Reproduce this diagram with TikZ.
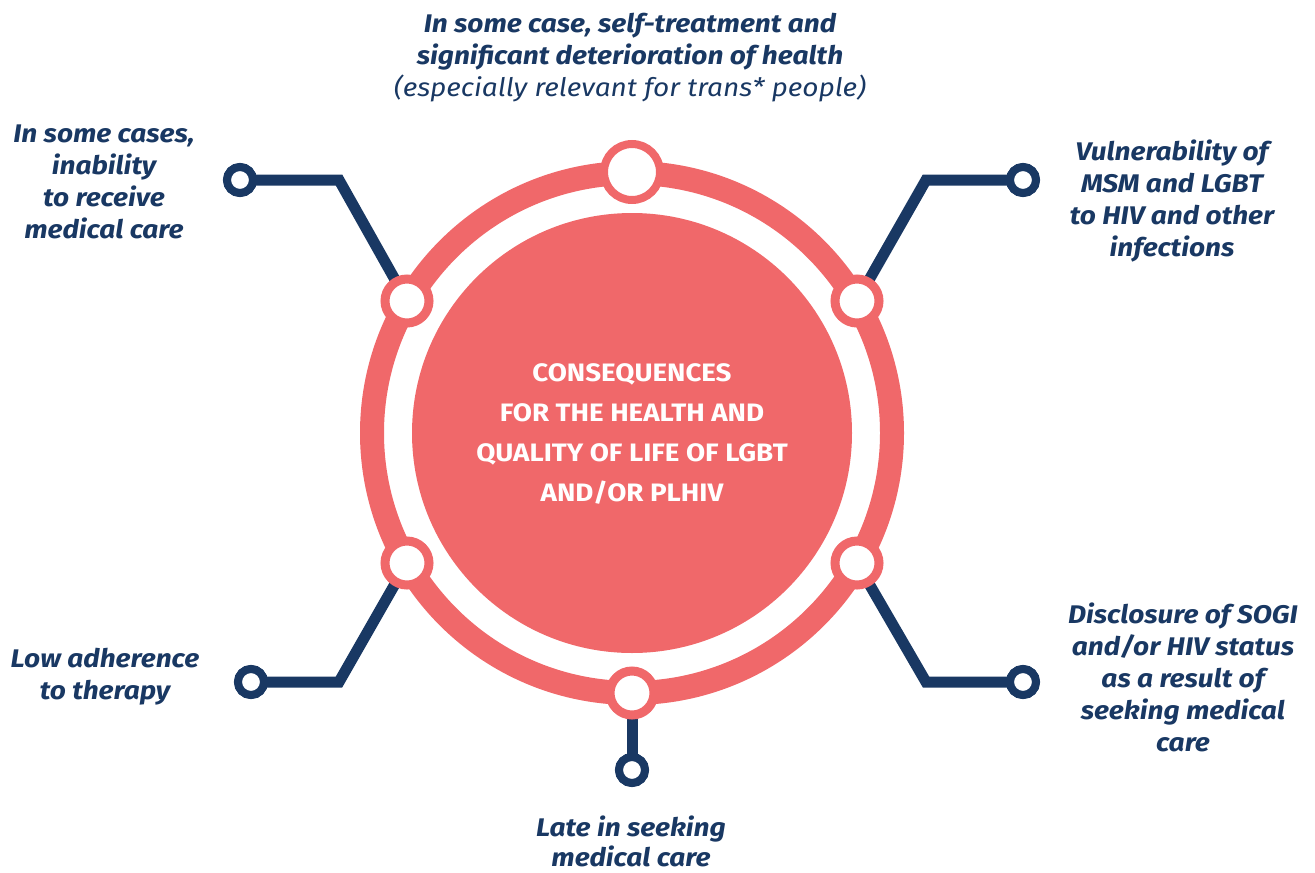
\documentclass[tikz,border=0pt]{standalone}
\usepackage{fontspec}
\setmainfont{Fira Sans}
\newfontfamily\widefont[FakeStretch=1.1]{Fira Sans}
\definecolor{ringred}{HTML}{F0686A}
\definecolor{navy}{HTML}{193863}
\begin{document}
\begin{tikzpicture}[x=1pt,y=-1pt,
  navyline/.style={draw=navy,line width=11pt,line join=miter},
  term/.style={circle,draw=navy,fill=white,line width=8pt,minimum size=26pt,inner sep=0pt},
  joint/.style={circle,draw=ringred,fill=white,line width=9pt,minimum size=44pt,inner sep=0pt},
  topjoint/.style={circle,draw=ringred,fill=white,line width=8pt,minimum size=56pt,inner sep=0pt},
  lbl/.style={text=navy,align=center,font=\widefont\fontsize{25.5}{32}\selectfont\bfseries\itshape},
  ctr/.style={text=white,align=center,font=\widefont\fontsize{25.2}{40}\selectfont\bfseries}]
\useasboundingbox (0,0) rectangle (1315,873);
\coordinate (C) at (632,433);
% rings
\draw[ringred,line width=24pt] (C) circle[radius=260];
\fill[ringred] (C) circle[radius=220];
% connector corners
\coordinate (ulc) at (339,180);
\coordinate (urc) at (926,180);
\coordinate (llc) at (339,682);
\coordinate (lrc) at (926,682);
% terminals
\node[term] (tul) at (240,180) {};
\node[term] (tur) at (1023,180) {};
\node[term] (tll) at (251,682) {};
\node[term] (tlr) at (1023,682) {};
\node[term] (tb) at (632,770) {};
% joints positions
\coordinate (jt) at (632,172);
\coordinate (jul) at (407,301);
\coordinate (jur) at (857,301);
\coordinate (jll) at (407,563);
\coordinate (jlr) at (857,563);
\coordinate (jb) at (632,693);
% navy connectors
\draw[navyline] (jul) -- (ulc) -- (tul.center);
\draw[navyline] (jur) -- (urc) -- (tur.center);
\draw[navyline] (jll) -- (llc) -- (tll.center);
\draw[navyline] (jlr) -- (lrc) -- (tlr.center);
\draw[navyline] (jb) -- (tb.center);
% redraw terminals on top
\node[term] at (tul) {};
\node[term] at (tur) {};
\node[term] at (tll) {};
\node[term] at (tlr) {};
\node[term] at (tb) {};
% joints
\node[topjoint] (Jt) at (jt) {};
\node[joint] (Jul) at (jul) {};
\node[joint] (Jur) at (jur) {};
\node[joint] (Jll) at (jll) {};
\node[joint] (Jlr) at (jlr) {};
\node[joint] (Jb) at (jb) {};
% center text
\node[ctr] (center) at (632,434) {CONSEQUENCES\\FOR THE HEALTH AND\\QUALITY OF LIFE OF LGBT\\AND/OR PLHIV};
% labels
\node[lbl] (ltop) at (630,58) {In some case, self-treatment and\\significant deterioration of health\\{\mdseries(especially relevant for trans* people)}};
\node[lbl] (lul) at (104,182) {In some cases,\\inability\\to receive\\medical care};
\node[lbl] (lur) at (1172,201) {Vulnerability of\\MSM and LGBT\\to HIV and other\\infections};
\node[lbl] (lll) at (105,677) {Low adherence\\to therapy};
\node[lbl] (llr) at (1183,677) {Disclosure of SOGI\\and/or HIV status\\as a result of\\seeking medical\\care};
\node[lbl,font=\widefont\fontsize{25.5}{30}\selectfont\bfseries\itshape] (lb) at (631,841) {Late in seeking\\medical care};
\end{tikzpicture}
\end{document}
